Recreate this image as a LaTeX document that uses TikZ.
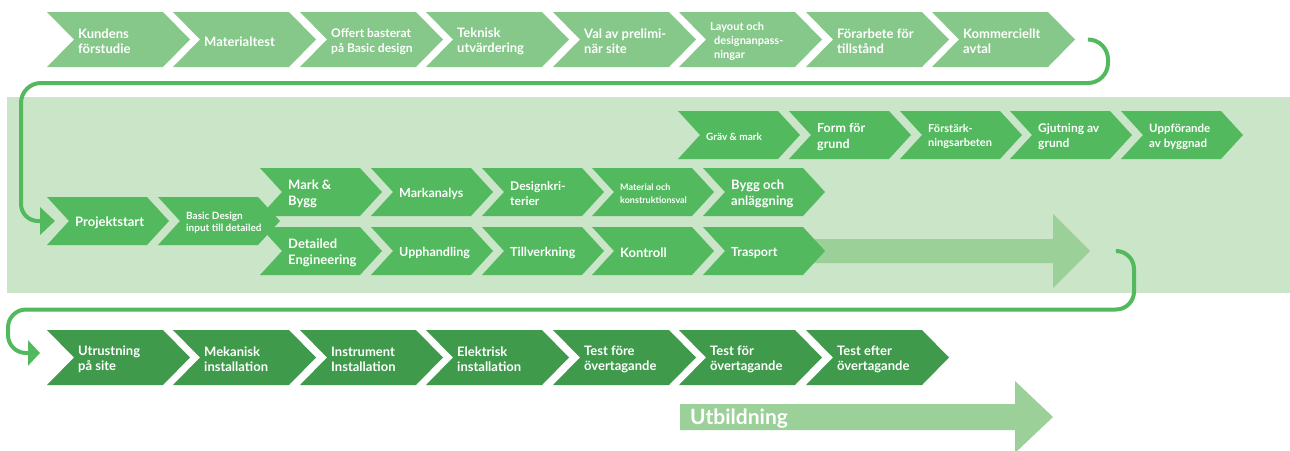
\documentclass[tikz,border=0pt]{standalone}
\usepackage{fontspec}
\setmainfont{Lato}
\usetikzlibrary{arrows.meta,calc}

\definecolor{topc}{RGB}{134,200,138}
\definecolor{midc}{RGB}{82,185,94}
\definecolor{botc}{RGB}{64,154,76}
\definecolor{bandc}{RGB}{203,229,201}
\definecolor{fadec}{RGB}{155,208,153}
\definecolor{linec}{RGB}{82,185,94}

% chevron: name, fill, left x, top y, top length, font size, line skip, text
% row geometry comes from \chh (height), \chd (point depth), \cho (text inset)
\newcommand{\chev}[8]{%
  \fill[#2] (#3,#4) -- ++(#5,0) -- ++(\chd,\chh/2) -- ++(-\chd,\chh/2)
    -- ++(-#5,0) -- ++(\chd,-\chh/2) -- cycle;
  \coordinate (#1-in) at (#3+\chd,#4+\chh/2);
  \coordinate (#1-tip) at (#3+#5+\chd,#4+\chh/2);
  \node[lbl,font=\bfseries\fontsize{#6}{#7}\selectfont] (#1) at (#3+\cho,#4+\chh/2+1.8) {#8};
}

\tikzset{
  lbl/.style={anchor=west,inner sep=0pt,text=white,align=left},
  conn/.style={draw=linec,line width=4pt},
}

\begin{document}
\begin{tikzpicture}[x=1pt,y=-1pt]
\useasboundingbox (0,0) rectangle (1290,450);

% middle band
\fill[bandc] (7,97) rectangle (1290,293);

% faded arrow behind the lower middle row
\fill[fadec] (800,239) -- (1053,239) -- (1053,214) -- (1090,251) -- (1053,288)
  -- (1053,263) -- (800,263) -- cycle;
\coordinate (fade-tip) at (1090,251);

% ---------- top row ----------
\def\chh{55}\def\chd{27}\def\cho{31}
\chev{t1}{topc}{47}{12}{116}{13}{15.6}{Kundens\\förstudie}
\chev{t2}{topc}{173}{12}{116}{13}{15.6}{Materialtest}
\chev{t3}{topc}{300}{12}{116}{12}{15}{Offert basterat\\på Basic design}
\chev{t4}{topc}{426}{12}{116}{13}{15.6}{Teknisk\\utvärdering}
\chev{t5}{topc}{553}{12}{116}{13}{15.6}{Val av prelimi-\\när site}
\chev{t6}{topc}{679}{12}{116}{11}{14}{Layout och\\\hspace*{4pt}designanpass-\\\hspace*{4pt}ningar}
\chev{t7}{topc}{806}{12}{116}{13}{15.6}{Förarbete för\\tillstånd}
\chev{kom}{topc}{932}{12}{116}{13}{15.6}{Kommerciellt\\avtal}

% ---------- middle band ----------
\def\chh{48}\def\chd{22}\def\cho{28}
% upper row
\chev{a1}{midc}{678}{111}{100}{10}{12.5}{Gräv \& mark}
\chev{a2}{midc}{789}{111}{100}{12.5}{15.5}{Form för\\grund}
\chev{a3}{midc}{900}{111}{100}{11}{14}{Förstärk-\\ningsarbeten}
\chev{a4}{midc}{1010}{111}{100}{12}{15}{Gjutning av\\grund}
\chev{a5}{midc}{1121}{111}{100}{11.5}{14.5}{Uppförande\\av byggnad}
% start
\chev{ps}{midc}{47}{197}{100}{13}{15.6}{Projektstart}
\chev{bd}{midc}{158}{197}{100}{10}{12.5}{Basic Design\\input till detailed}
% second row
\chev{b1}{midc}{260}{168}{100}{13}{16}{Mark \&\\Bygg}
\chev{b2}{midc}{371}{168}{100}{12.5}{15}{Markanalys}
\chev{b3}{midc}{482}{168}{100}{12}{15}{Designkri-\\terier}
\chev{b4}{midc}{592}{168}{100}{9}{12.5}{Material och\\konstruktionsval}
\chev{b5}{midc}{703}{168}{100}{13}{16}{Bygg och\\anläggning}
% third row
\chev{c1}{midc}{260}{227}{100}{13}{16}{Detailed\\Engineering}
\chev{c2}{midc}{371}{227}{100}{12.5}{15}{Upphandling}
\chev{c3}{midc}{482}{227}{100}{12.5}{15}{Tillverkning}
\chev{c4}{midc}{592}{227}{100}{13}{15}{Kontroll}
\chev{c5}{midc}{703}{227}{100}{12.5}{15}{Trasport}

% ---------- bottom row ----------
\def\chh{55}\def\chd{27}\def\cho{31}
\chev{u1}{botc}{47}{330}{116}{13}{15.6}{Utrustning\\på site}
\chev{u2}{botc}{173}{330}{116}{13}{15.6}{Mekanisk\\installation}
\chev{u3}{botc}{300}{330}{116}{13}{15.6}{Instrument\\Installation}
\chev{u4}{botc}{426}{330}{116}{13}{15.6}{Elektrisk\\installation}
\chev{u5}{botc}{553}{330}{116}{13}{15.6}{Test före\\övertagande}
\chev{u6}{botc}{679}{330}{116}{13}{15.6}{Test för\\övertagande}
\chev{u7}{botc}{806}{330}{116}{13}{15.6}{Test efter\\övertagande}

% training arrow
\fill[fadec] (680,404) -- (1015,404) -- (1015,381) -- (1053,417) -- (1015,453)
  -- (1015,430) -- (680,430) -- cycle;
\node[lbl,font=\bfseries\fontsize{21}{25}\selectfont] (utb) at (690,418.5) {Utbildning};

% ---------- connectors ----------
\draw[conn,rounded corners=20pt,-{Triangle[length=15pt,width=27pt]}]
  ([xshift=15pt]kom-tip) -- (1108,39.5) -- (1108,83) -- (21,83)
  [rounded corners=17pt] -- (21,221) -- ([xshift=-14pt]ps-in);

\coordinate (u1-arrow) at (40,353);
\draw[conn,rounded corners=18pt,-{Triangle[length=12pt,width=25pt]}]
  ([xshift=27pt]fade-tip) -- (1134,251) -- (1134,309.5) -- (8,309.5)
  -- (8,353) -- (u1-arrow);
\end{tikzpicture}
\end{document}
